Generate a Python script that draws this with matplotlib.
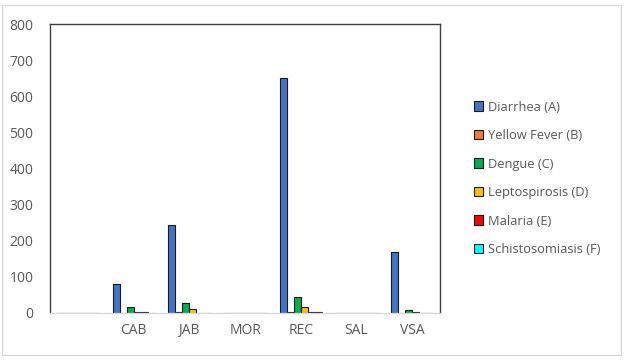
import matplotlib
matplotlib.use("Agg")
import matplotlib.pyplot as plt
from matplotlib.patches import Rectangle
import numpy as np

categories = ["", "CAB", "JAB", "MOR", "REC", "SAL", "VSA"]
series_names = ["Diarrhea (A)", "Yellow Fever (B)", "Dengue (C)",
                "Leptospirosis (D)", "Malaria (E)", "Schistosomiasis (F)"]
diarrhea = [0, 80, 243, 0, 650, 0, 168]
yellow_fever = [0, 0, 2, 0, 2, 0, 0]
dengue = [0, 17, 28, 0, 44, 0, 9]
leptospirosis = [0, 2, 10, 0, 17, 0, 2]
malaria = [0, 2, 0, 0, 2, 0, 0]
schistosomiasis = [0, 0, 0, 0, 2, 0, 0]
yticks = [0, 100, 200, 300, 400, 500, 600, 700, 800]

colors = ["#4472C4", "#ED7D31", "#00B050", "#FFC000", "#FF0000", "#00FFFF"]
data = [diarrhea, yellow_fever, dengue, leptospirosis, malaria, schistosomiasis]

plt.rcParams['font.family'] = ['Open Sans', 'DejaVu Sans']
txt = "#595959"

fig = plt.figure(figsize=(6.24, 3.6), dpi=100)
fig.patches.append(Rectangle((2/624, 5/360), 619/624, 350/360, transform=fig.transFigure,
                             fill=False, edgecolor="#D9D9D9", lw=1))
ax = fig.add_axes([50/624, 47/360, 390/624, 289/360])

x = np.arange(len(categories))
w = 0.126
n = len(data)
for i, (vals, c, name) in enumerate(zip(data, colors, series_names)):
    off = (i - (n - 1) / 2) * w
    ax.bar(x + off, vals, width=w, color=c, edgecolor="#1a1a1a", linewidth=0.8, label=name)

ax.set_xlim(-0.5, len(categories) - 0.5)
ax.set_ylim(0, 800)
ax.set_yticks(yticks)
ax.set_xticks(x)
ax.set_xticklabels(categories)
ax.tick_params(axis='both', length=0, colors=txt, labelsize=10)
ax.tick_params(axis='y', pad=12)
ax.tick_params(axis='x', pad=7)
for s in ["top", "right", "left"]:
    ax.spines[s].set_color("#404040")
    ax.spines[s].set_linewidth(1.0)
ax.spines["bottom"].set_color("#D9D9D9")
ax.spines["bottom"].set_linewidth(1.0)

handles, labels = ax.get_legend_handles_labels()
leg = fig.legend(handles, labels, loc="upper left", bbox_to_anchor=(462/624, 1 - 89/360),
                 frameon=False, fontsize=9.3, labelcolor=txt, handlelength=0.75,
                 handleheight=0.75, handletextpad=0.35, labelspacing=1.2)

fig.savefig("out.png", dpi=100)
